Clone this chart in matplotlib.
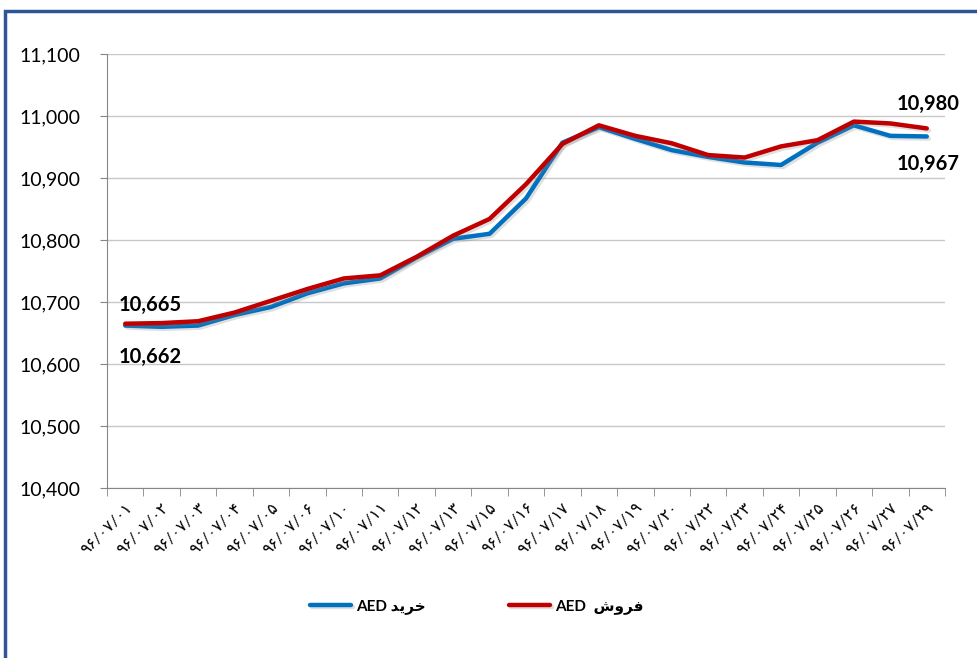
import numpy as np
import matplotlib
matplotlib.use("Agg")
import matplotlib.pyplot as plt
import matplotlib.patheffects as pe
from matplotlib.patches import Rectangle
from matplotlib.ticker import FuncFormatter
from matplotlib.transforms import ScaledTranslation

plt.rcParams['font.family'] = ['Lato', 'DejaVu Sans']

# dates (Persian digits), 96/07/xx
dates = ["۹۶/۰۷/۰۱", "۹۶/۰۷/۰۲", "۹۶/۰۷/۰۳", "۹۶/۰۷/۰۴", "۹۶/۰۷/۰۵", "۹۶/۰۷/۰۶",
         "۹۶/۰۷/۱۰", "۹۶/۰۷/۱۱", "۹۶/۰۷/۱۲", "۹۶/۰۷/۱۳", "۹۶/۰۷/۱۵", "۹۶/۰۷/۱۶",
         "۹۶/۰۷/۱۷", "۹۶/۰۷/۱۸", "۹۶/۰۷/۱۹", "۹۶/۰۷/۲۰", "۹۶/۰۷/۲۲", "۹۶/۰۷/۲۳",
         "۹۶/۰۷/۲۴", "۹۶/۰۷/۲۵", "۹۶/۰۷/۲۶", "۹۶/۰۷/۲۷", "۹۶/۰۷/۲۹"]

buy = [10662, 10660, 10662, 10679, 10692, 10714, 10730, 10738, 10772, 10802, 10810, 10867,
       10957, 10982, 10963, 10945, 10934, 10925, 10921, 10957, 10985, 10968, 10967]
sell = [10665, 10666, 10669, 10683, 10702, 10721, 10738, 10743, 10773, 10807, 10834, 10890,
        10955, 10985, 10968, 10956, 10937, 10933, 10951, 10961, 10991, 10988, 10980]

# legend labels written in visual order with shaped Arabic forms
buy_label = "AED \uFEAA\uFBFE\uFEAE\uFEA7"      # خرید AED
sell_label = "AED  \uFEB5\uFEED\uFEAE\uFED3"    # فروش AED

fig = plt.figure(figsize=(9.77, 6.58), dpi=100)
ax = fig.add_axes([107/977, 1-488/658, 838/977, 434/658])

x = np.arange(len(dates))
shadow = [pe.SimpleLineShadow(offset=(1.5, -1.5), alpha=0.25, shadow_color='gray'), pe.Normal()]
l1, = ax.plot(x, buy, color='#0070C0', lw=3.2, label=buy_label, path_effects=shadow,
              solid_joinstyle='round', solid_capstyle='round', zorder=3)
l2, = ax.plot(x, sell, color='#C00000', lw=3.2, label=sell_label, path_effects=shadow,
              solid_joinstyle='round', solid_capstyle='round', zorder=4)

ax.set_xlim(-0.5, len(dates) - 0.5)
ax.set_ylim(10400, 11100)
ax.set_yticks(np.arange(10400, 11101, 100))
ax.yaxis.set_major_formatter(FuncFormatter(lambda v, p: f"{int(v):,}"))
ax.grid(axis='y', color='#C8C8C8', lw=1)
ax.set_axisbelow(True)

ax.set_xticks(x)
ax.set_xticklabels(dates, rotation=45, ha='right', va='top', rotation_mode='anchor', fontsize=11.5)
shift = ScaledTranslation(-6/100, 0, fig.dpi_scale_trans)
for t in ax.get_xticklabels():
    t.set_transform(t.get_transform() + shift)
ax.set_xticks(np.arange(-0.5, len(dates), 1), minor=True)
ax.tick_params(axis='x', which='major', length=0, pad=9)
ax.tick_params(axis='x', which='minor', length=6, color='#868686', direction='out')
ax.tick_params(axis='y', length=5, color='#868686', labelsize=14, pad=14)

for s in ['top', 'right']:
    ax.spines[s].set_visible(False)
for s in ['left', 'bottom']:
    ax.spines[s].set_color('#868686')

# data labels
lab = dict(fontsize=14.5, fontweight='bold', ha='center')
ax.text(x[0] + 0.7, sell[0] + 30, f"{sell[0]:,}", va='center', **lab)
ax.text(x[0] + 0.7, buy[0] - 50, f"{buy[0]:,}", va='center', **lab)
ax.text(x[-1] + 0.05, sell[-1] + 40, f"{sell[-1]:,}", va='center', **lab)
ax.text(x[-1] + 0.05, buy[-1] - 45, f"{buy[-1]:,}", va='center', **lab)

fig.legend(handles=[l1, l2], loc='center', bbox_to_anchor=(0.488, 1-607/658), ncol=2,
           frameon=False, prop={'weight': 'bold', 'size': 11}, columnspacing=5.4,
           handlelength=2.7, handletextpad=0.35)

# outer border (blue frame on top and left)
fig.patches.append(Rectangle((5/977, -0.1), 1.2, 0.1 + 1-11/658, transform=fig.transFigure,
                             fill=False, edgecolor='#2F5597', lw=2.5))

fig.savefig("out.png", dpi=100, facecolor='white')
